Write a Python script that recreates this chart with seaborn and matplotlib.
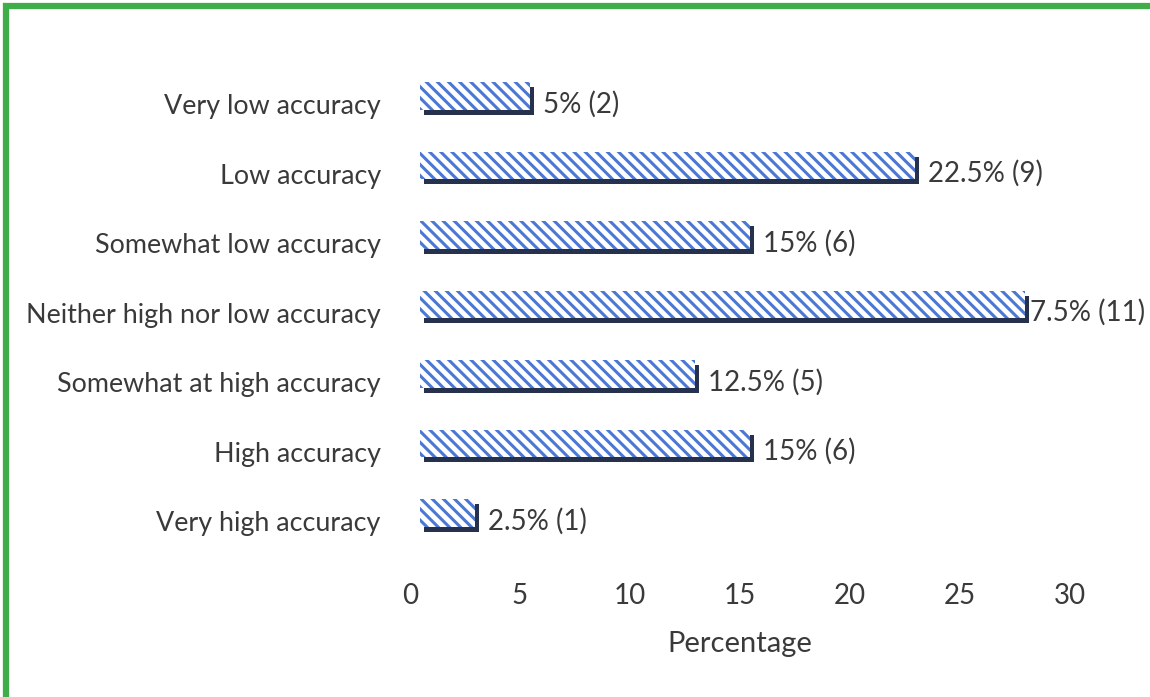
import matplotlib
matplotlib.use("Agg")
import matplotlib.pyplot as plt
import matplotlib.transforms as mtransforms
from matplotlib.patches import Rectangle
import seaborn as sns
import pandas as pd

# Survey responses: perceived accuracy
categories = [
    "Very low accuracy",
    "Low accuracy",
    "Somewhat low accuracy",
    "Neither high nor low accuracy",
    "Somewhat at high accuracy",
    "High accuracy",
    "Very high accuracy",
]
percentages = [5, 22.5, 15, 27.5, 12.5, 15, 2.5]
counts = [2, 9, 6, 11, 5, 6, 1]
x_ticks = [0, 5, 10, 15, 20, 25, 30]

df = pd.DataFrame({"category": categories, "percentage": percentages})

sns.set_theme(style="white")
plt.rcParams["font.family"] = ["Lato", "DejaVu Sans"]
plt.rcParams["hatch.linewidth"] = 2.2

TEXT = "#3a3a3a"
BLUE = "#4a78d4"
SHADOW = "#26324d"

fig = plt.figure(figsize=(11.5, 6.97), dpi=100)
ax = fig.add_axes([0.365, 0.214, 0.574, 0.698])

sns.barplot(data=df, y="category", x="percentage", order=categories,
            orient="h", width=0.4, ax=ax, color="white", saturation=1,
            edgecolor=BLUE, linewidth=0, hatch="\\\\\\", zorder=3)

# dark drop shadow under each bar for a raised look
shift = mtransforms.ScaledTranslation(4 / 100, -5 / 100, fig.dpi_scale_trans)
for bar in list(ax.patches):
    sh = Rectangle(bar.get_xy(), bar.get_width(), bar.get_height(),
                   facecolor=SHADOW, edgecolor="none", zorder=2,
                   transform=ax.transData + shift)
    ax.add_patch(sh)

# value labels "xx% (n)"
label_shift = mtransforms.ScaledTranslation(0, -8 / 100, fig.dpi_scale_trans)
for i, (p, c) in enumerate(zip(percentages, counts)):
    pad = 0.6 if p < max(percentages) else -0.5
    ax.text(p + pad, i, f"{p:g}% ({c})", va="center", ha="left",
            fontsize=20, color=TEXT,
            transform=ax.transData + label_shift, zorder=1)

ax.set_xlim(0, 30)
ax.set_ylim(len(categories) - 0.5, -0.5)
ax.set_xticks(x_ticks)
ax.set_xticklabels([str(t) for t in x_ticks])
ax.set_xlabel("Percentage", fontsize=21, color=TEXT, labelpad=16)
ax.set_ylabel("")
ax.tick_params(axis="both", length=0, labelcolor=TEXT)
ax.tick_params(axis="x", pad=25, labelsize=20)
ax.tick_params(axis="y", pad=28, labelsize=19.4)
left_nudge = mtransforms.ScaledTranslation(-10 / 100, 0, fig.dpi_scale_trans)
for lab in ax.get_xticklabels():
    lab.set_transform(lab.get_transform() + left_nudge)
ax.xaxis.label.set_transform(ax.xaxis.label.get_transform() + left_nudge)
for lab in ax.get_yticklabels():
    lab.set_transform(lab.get_transform() + label_shift)
sns.despine(ax=ax, left=True, bottom=True)

# green frame around the panel
fig.patches.append(Rectangle((5.5 / 1150, -0.05), 1.2, (691 / 697) + 0.05,
                             transform=fig.transFigure, fill=False,
                             edgecolor="#3fae49", linewidth=4.5))

fig.savefig("out.png", dpi=100)
